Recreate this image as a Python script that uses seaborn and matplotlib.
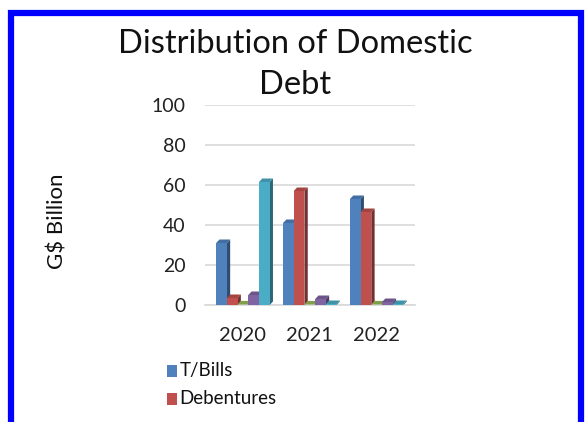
import matplotlib
matplotlib.use("Agg")
import matplotlib.pyplot as plt
import seaborn as sns
import pandas as pd
from matplotlib.patches import Polygon, Rectangle
from matplotlib.colors import to_rgb

years = ["2020", "2021", "2022"]
series_names = ["T/Bills", "Debentures", "Series 3", "Series 4", "Series 5"]
t_bills = [31, 41, 53]
debentures = [3.5, 57, 46.5]
series_3 = [0.3, 0.3, 0.3]
series_4 = [5, 3, 1.5]
series_5 = [61.5, 0.5, 0.5]
colors = ["#4F81BD", "#C0504D", "#9BBB59", "#8064A2", "#4BACC6"]

rows = []
for name, vals in zip(series_names, [t_bills, debentures, series_3, series_4, series_5]):
    for y, v in zip(years, vals):
        rows.append({"Year": y, "Series": name, "Value": v})
df = pd.DataFrame(rows)

sns.set_theme(style="white")
plt.rcParams["font.family"] = ["Lato", "DejaVu Sans"]

fig = plt.figure(figsize=(5.85, 4.22), dpi=100)
ax = fig.add_axes([0.350, 0.277, 0.359, 0.474])

sns.barplot(data=df, x="Year", y="Value", hue="Series", hue_order=series_names,
            palette=colors, width=0.8, dodge=True, gap=0, ax=ax, legend=False,
            saturation=1, linewidth=0, err_kws={"linewidth": 0})

# fake 3-D depth: side and top faces behind each front face
dx, dy = 0.05, 1.8
n_per = len(years)
for i, patch in enumerate(ax.patches[:]):
    k = i // n_per
    x, w, h = patch.get_x(), patch.get_width(), patch.get_height()
    base = to_rgb(patch.get_facecolor())
    dark = tuple(c * 0.6 for c in base)
    mid = tuple(c * 0.85 for c in base)
    patch.set_zorder(3 + 2 * k + 1)
    side = Polygon([(x + w, 0), (x + w + dx, dy), (x + w + dx, h + dy), (x + w, h)],
                   closed=True, facecolor=dark, edgecolor="none", zorder=3 + 2 * k)
    top = Polygon([(x, h), (x + dx, h + dy), (x + w + dx, h + dy), (x + w, h)],
                  closed=True, facecolor=mid, edgecolor="none", zorder=3 + 2 * k)
    ax.add_patch(side)
    ax.add_patch(top)

ax.set_xlim(-0.57, 2.57)
ax.set_ylim(0, 100)
ax.set_yticks([0, 20, 40, 60, 80, 100])
ax.yaxis.grid(True, color="#D9D9D9", linewidth=1.2, zorder=0)
ax.set_axisbelow(True)
for s in ["top", "right", "left"]:
    ax.spines[s].set_visible(False)
ax.spines["bottom"].set_color("#D9D9D9")
ax.tick_params(axis="both", labelsize=14, colors="#222222", length=0)
ax.tick_params(axis="y", pad=14)
ax.tick_params(axis="x", pad=16, labelsize=14.5)
ax.set_xlabel("")
ax.set_ylabel("")

fig.text(0.098, 0.476, "G$ Billion", rotation=90, ha="center", va="center",
         fontsize=16, color="#111111")
fig.text(0.505, 0.895, "Distribution of Domestic", ha="center", va="center",
         fontsize=23.5, color="#111111")
fig.text(0.505, 0.799, "Debt", ha="center", va="center",
         fontsize=23.5, color="#111111")

# legend (first two entries)
for j, (name, col) in enumerate(zip(series_names[:2], colors[:2])):
    yy = 0.121 - j * 0.066
    fig.patches.append(Rectangle((0.285, yy - 0.014), 0.018, 0.028,
                                 transform=fig.transFigure, facecolor=col,
                                 edgecolor="none"))
    fig.text(0.307, yy, name, ha="left", va="center", fontsize=13.5, color="#111111")

# blue frame
fig.patches.append(Rectangle((0.018, -0.05), 0.975, 1.02, transform=fig.transFigure,
                             facecolor="none", edgecolor="#0000FF", linewidth=4.5))

fig.savefig("out.png", dpi=100)
